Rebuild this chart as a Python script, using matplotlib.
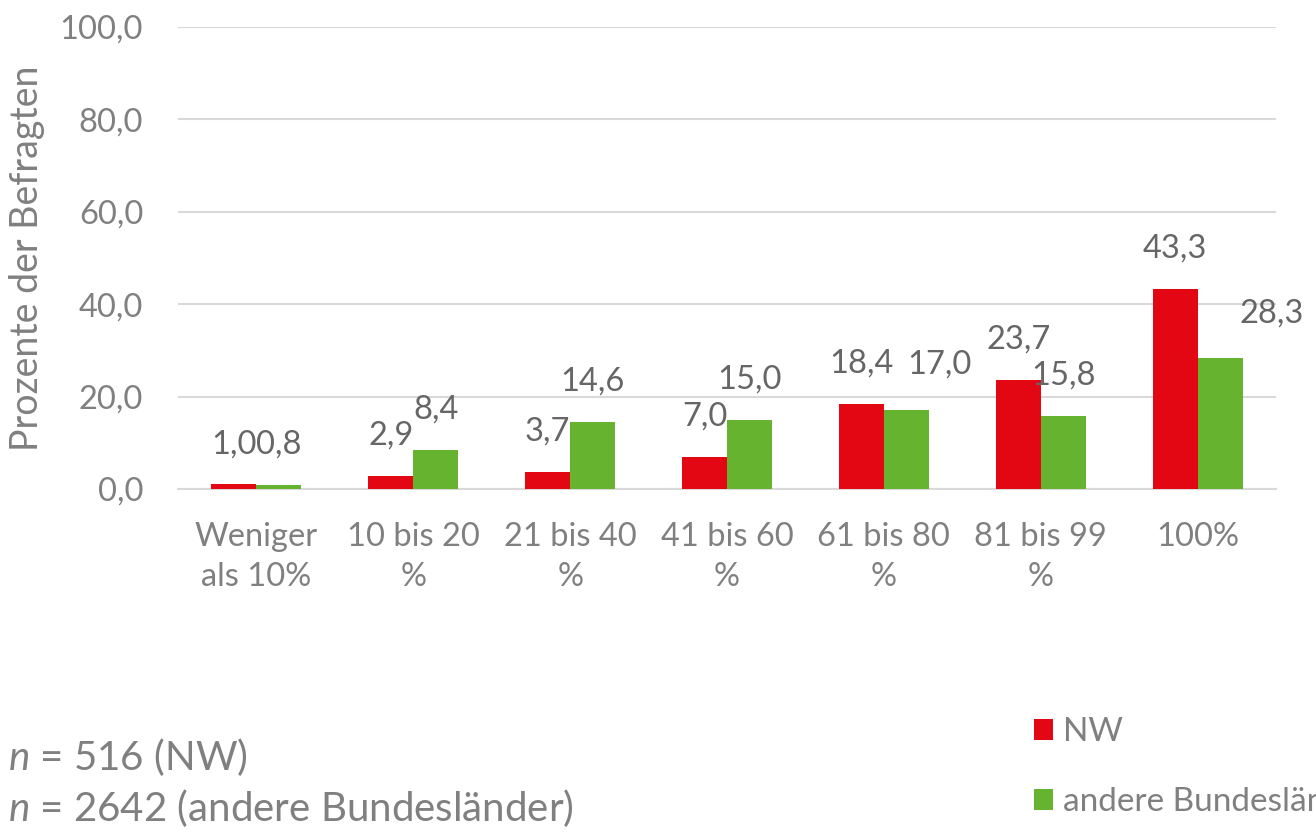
import matplotlib
matplotlib.use("Agg")
import matplotlib.pyplot as plt
import numpy as np

# Daten
categories = ["Weniger\nals 10%", "10 bis 20\n%", "21 bis 40\n%", "41 bis 60\n%",
              "61 bis 80\n%", "81 bis 99\n%", "100%"]
nw = [1.0, 2.9, 3.7, 7.0, 18.4, 23.7, 43.3]
andere = [0.8, 8.4, 14.6, 15.0, 17.0, 15.8, 28.3]
series_names = ["NW", "andere Bundesländer"]
y_ticks = [0, 20, 40, 60, 80, 100]

# label shifts (points) where the labels were moved to avoid overlap
nw_shift = [(0, 29)] * 7
andere_shift = [(0, 29), (0, 29), (0, 29), (0, 29), (24, 33), (0, 29), (37, 32)]

RED = "#e30613"
GREEN = "#65b32e"
GREY = "#808080"
LABEL_GREY = "#666666"

plt.rcParams["font.family"] = ["Lato", "DejaVu Sans"]
plt.rcParams["mathtext.fontset"] = "custom"
plt.rcParams["mathtext.it"] = "Lato:italic"
plt.rcParams["mathtext.rm"] = "Lato"

fig = plt.figure(figsize=(13.16, 8.34), dpi=100)
ax = fig.add_axes([178 / 1316, 1 - 489 / 834, 1098 / 1316, 462 / 834])

x = np.arange(len(categories))
w = 0.287
b1 = ax.bar(x - w / 2, nw, w, color=RED, label=series_names[0], zorder=3)
b2 = ax.bar(x + w / 2, andere, w, color=GREEN, label=series_names[1], zorder=3)

def fmt(v):
    return f"{v:.1f}".replace(".", ",")

for bars, vals, shifts in [(b1, nw, nw_shift), (b2, andere, andere_shift)]:
    for bar, v, (dx, dy) in zip(bars, vals, shifts):
        ax.annotate(fmt(v), (bar.get_x() + bar.get_width() / 2, v),
                    xytext=(dx, dy), textcoords="offset points",
                    ha="center", va="center", fontsize=23.5, color=LABEL_GREY,
                    annotation_clip=False)

ax.set_xlim(-0.5, len(categories) - 0.5)
ax.set_ylim(0, 100)
ax.set_yticks(y_ticks)
ax.set_yticklabels([fmt(t) for t in y_ticks])
ax.set_xticks(x)
ax.set_xticklabels(categories, linespacing=1.4)
ax.tick_params(axis="both", length=0, labelsize=23.5, labelcolor=GREY)
ax.tick_params(axis="y", pad=25)
ax.tick_params(axis="x", pad=24)
ax.grid(axis="y", color="#d9d9d9", linewidth=1.5, zorder=0)
for s in ["top", "right", "left"]:
    ax.spines[s].set_visible(False)
ax.spines["bottom"].set_color("#d9d9d9")
ax.spines["bottom"].set_linewidth(1.5)

fig.text(27 / 1316, 1 - 258 / 834, "Prozente der Befragten", rotation=90,
         ha="center", va="center", fontsize=27, color=GREY)

fig.text(8 / 1316, 1 - 757 / 834, "$n$ = 516 (NW)", ha="left", va="center",
         fontsize=29, color=GREY)
fig.text(8 / 1316, 1 - 808 / 834, "$n$ = 2642 (andere Bundesländer)", ha="left",
         va="center", fontsize=29, color=GREY)

fig.legend(handles=[b1, b2], loc="upper left", bbox_to_anchor=(1034 / 1316, 1 - 717 / 834),
           frameon=False, fontsize=24, labelcolor=GREY, handlelength=0.58,
           handleheight=0.58, handletextpad=0.3, labelspacing=1.2,
           borderpad=0, borderaxespad=0)

fig.savefig("out.png", dpi=100)
